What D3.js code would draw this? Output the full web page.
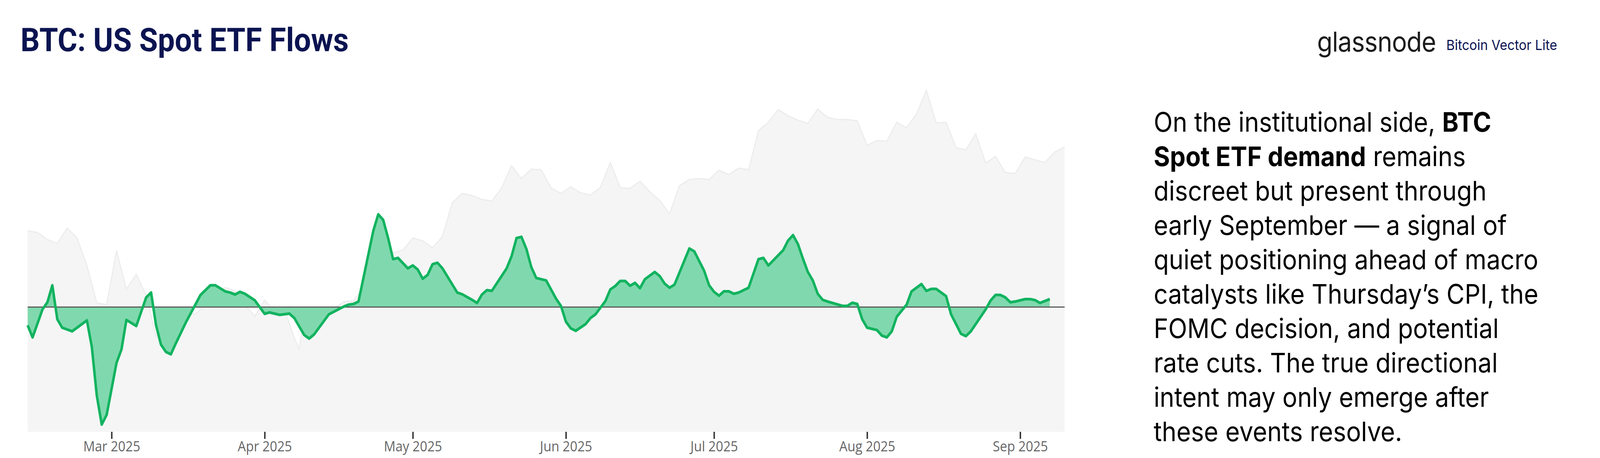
<!DOCTYPE html>
<html>
<head>
<meta charset="utf-8">
<script src="https://cdn.jsdelivr.net/npm/d3@7"></script>
<style>
html, body { margin: 0; background: #fff; overflow: hidden; }
svg { display: block; }
</style>
</head>
<body>
<script>
// price (k USD), every ~2 days
const priceDates = ["2025-02-12","2025-02-14","2025-02-16","2025-02-18","2025-02-20","2025-02-22","2025-02-24","2025-02-26","2025-02-28","2025-03-02","2025-03-04","2025-03-06","2025-03-08","2025-03-10","2025-03-12","2025-03-14","2025-03-16","2025-03-18","2025-03-20","2025-03-22","2025-03-24","2025-03-26","2025-03-28","2025-03-30","2025-04-01","2025-04-03","2025-04-05","2025-04-07","2025-04-08","2025-04-09","2025-04-11","2025-04-13","2025-04-15","2025-04-17","2025-04-19","2025-04-21","2025-04-23","2025-04-25","2025-04-27","2025-04-29","2025-05-01","2025-05-03","2025-05-05","2025-05-07","2025-05-09","2025-05-11","2025-05-13","2025-05-15","2025-05-17","2025-05-19","2025-05-21","2025-05-23","2025-05-25","2025-05-27","2025-05-29","2025-05-31","2025-06-02","2025-06-04","2025-06-06","2025-06-08","2025-06-10","2025-06-12","2025-06-14","2025-06-16","2025-06-18","2025-06-20","2025-06-22","2025-06-24","2025-06-26","2025-06-28","2025-06-30","2025-07-02","2025-07-04","2025-07-06","2025-07-08","2025-07-10","2025-07-12","2025-07-14","2025-07-16","2025-07-18","2025-07-20","2025-07-22","2025-07-24","2025-07-26","2025-07-28","2025-07-30","2025-08-01","2025-08-03","2025-08-05","2025-08-07","2025-08-09","2025-08-11","2025-08-13","2025-08-15","2025-08-17","2025-08-19","2025-08-21","2025-08-23","2025-08-25","2025-08-27","2025-08-29","2025-08-31","2025-09-02","2025-09-04","2025-09-06","2025-09-08","2025-09-10"]
const priceValues = [97.8,97.5,96.2,95.5,98.3,96.5,91.5,84.7,84.4,94.2,87.2,89.9,86.1,78.6,83.7,84.0,82.6,82.7,84.2,84.0,87.5,86.9,84.3,82.3,85.2,83.2,83.5,78.4,76.3,82.6,83.4,83.6,83.7,84.9,85.1,87.5,93.7,94.7,93.8,94.3,96.5,96.0,94.7,96.8,102.9,104.6,104.2,103.5,103.2,105.6,109.6,107.3,109.0,108.9,105.6,104.6,105.8,104.7,104.3,105.7,110.2,105.6,105.5,106.8,104.9,103.3,100.9,106.0,107.1,107.3,107.1,108.8,108.0,109.2,108.9,116.0,117.5,119.8,118.7,117.9,117.3,119.9,118.4,118.0,118.0,117.8,113.3,114.2,114.1,117.5,116.5,119.0,123.3,117.4,117.5,112.9,112.5,115.4,110.1,111.3,108.4,108.2,111.2,110.7,110.2,112.1,113.0]

// ETF net flow (smoothed, arbitrary units), day offset from 2025-02-12
const flowDays = [0,1,3,4,5,6,7,9,10,12,13,14,15,16,18,19,20,22,24,25,26,27,28,29,30,32,35,37,38,40,41,42,43,44,46,48,49,51,53,54,56,57,58,61,64,65,66,67,70,71,72,73,74,75,77,78,79,80,81,82,83,84,87,88,90,91,92,93,94,97,98,99,100,101,102,103,105,107,108,109,110,111,113,114,115,117,118,119,120,121,122,123,124,125,127,128,129,130,131,134,135,137,138,139,140,141,142,143,144,146,148,149,150,153,154,155,156,157,158,159,160,161,162,165,166,167,168,169,170,172,173,174,175,176,178,179,181,182,183,184,186,187,189,190,191,194,195,196,197,198,199,200,202,203,204,205,207]
const flowValues = [-7.5,-12.5,-1,2,9,-5,-8.5,-10,-8.5,-5.5,-16.5,-36.5,-48.5,-44.5,-23,-17.5,-5.3,-7.8,4,6,-7.5,-15.5,-18.5,-19.5,-15,-6.5,5,9,9,6.5,6,5.2,6.3,5.5,2.8,-2.8,-2.2,-3.2,-2.7,-4.5,-11.5,-13,-11.3,-3,0.2,1,1.3,2.3,31.5,38.3,36,28.5,19.8,20.3,16,17.2,15.5,11.7,13.3,17.7,18.3,16,6,5.3,3,1.7,5.2,7,6.7,16,21,28.5,29,24,16.5,12,11,3.5,0.5,-6,-8.8,-9.8,-7,-4.5,-3,2.5,7.3,8.7,10.8,10.8,8.8,10,7.8,11.5,14.5,12.8,9.7,8,9.3,24.2,23,15,9,6.3,4.7,6.5,6.5,5.5,6,8,19.8,20.3,17.2,23.5,27.5,29.7,26,20,14.5,11,5.5,3,2.3,0.5,0.5,1.8,1.3,-5,-8.5,-9.5,-11.8,-12.5,-10,-4,1,6.5,9.5,6.7,7.5,7.5,4.5,-3,-11,-12,-10,-1,2.7,5,5,4,2,2.3,3.3,3.3,2.9,1.7,3.3]

const tickLabels = ["Mar 2025","Apr 2025","May 2025","Jun 2025","Jul 2025","Aug 2025","Sep 2025"]

const textLines = [
    [["On the institutional side, ", 400], ["BTC", 700]],
    [["Spot ETF demand", 700], [" remains", 400]],
    [["discreet but present through", 400]],
    [["early September \u2014 a signal of", 400]],
    [["quiet positioning ahead of macro", 400]],
    [["catalysts like Thursday\u2019s CPI, the", 400]],
    [["FOMC decision, and potential", 400]],
    [["rate cuts. The true directional", 400]],
    [["intent may only emerge after", 400]],
    [["these events resolve.", 400]]
]

const W = 4456, H = 1172
const plotLeft = 77, plotRight = 2965, plotTop = 220, plotBottom = 1105

const parse = d3.timeParse("%Y-%m-%d")
const start = parse("2025-02-12")
const dayOf = (n) => d3.timeDay.offset(start, n)

// scale the full design to whatever the window actually is
const svg = d3.select("body").append("svg")
    .attr("width", window.innerWidth).attr("height", window.innerHeight)
    .attr("viewBox", `0 0 ${W} ${H}`).attr("preserveAspectRatio", "none")

const x = d3.scaleTime().domain([start, parse("2025-09-10")]).range([plotLeft, plotRight])
const yPrice = d3.scaleLinear().domain([61.3, 124.1]).range([plotBottom, plotTop])
const yFlow = d3.scaleLinear().domain([-51.5, 91.3]).range([plotBottom, plotTop])

const prices = priceDates.map((d, i) => ({date: parse(d), v: priceValues[i]}))
const flows = flowDays.map((d, i) => ({date: dayOf(d), v: flowValues[i]}))

// grey price background
svg.append("path").datum(prices)
    .attr("d", d3.area().x(d => x(d.date)).y0(plotBottom).y1(d => yPrice(d.v)))
    .attr("fill", "#f5f5f5")
svg.append("path").datum(prices)
    .attr("d", d3.line().x(d => x(d.date)).y(d => yPrice(d.v)))
    .attr("fill", "none").attr("stroke", "#ececec").attr("stroke-width", 3)

// flows
svg.append("path").datum(flows)
    .attr("d", d3.area().x(d => x(d.date)).y0(yFlow(0)).y1(d => yFlow(d.v)))
    .attr("fill", "#80d9ae")
svg.append("line")
    .attr("x1", plotLeft).attr("x2", plotRight).attr("y1", yFlow(0)).attr("y2", yFlow(0))
    .attr("stroke", "#5a5a5a").attr("stroke-width", 3)
svg.append("path").datum(flows)
    .attr("d", d3.line().x(d => x(d.date)).y(d => yFlow(d.v)))
    .attr("fill", "none").attr("stroke", "#12b35f").attr("stroke-width", 7)
    .attr("stroke-linejoin", "round")

// x axis
const tickDates = d3.timeMonth.range(parse("2025-03-01"), parse("2025-09-02"))
const axis = svg.append("g").attr("transform", `translate(0,${plotBottom})`)
    .call(d3.axisBottom(x).tickValues(tickDates).tickSize(18).tickPadding(6)
        .tickFormat((d, i) => tickLabels[i]))
axis.select(".domain").remove()
axis.selectAll(".tick line").attr("stroke", "#333").attr("stroke-width", 4)
axis.selectAll("text").attr("font-family", "'Open Sans', sans-serif")
    .attr("font-size", 36).attr("fill", "#666")

// title and brand
svg.append("text").text("BTC: US Spot ETF Flows")
    .attr("x", 57).attr("y", 131)
    .attr("font-family", "Roboto, sans-serif").attr("font-weight", 700)
    .attr("font-size", 84).attr("fill", "#0b1451")
svg.append("text").text("glassnode")
    .attr("x", 3668).attr("y", 132)
    .attr("font-family", "Inter, sans-serif").attr("font-size", 70)
    .attr("fill", "#1c1c1c").attr("letter-spacing", -1)
svg.append("text").text("Bitcoin Vector Lite")
    .attr("x", 4028).attr("y", 128)
    .attr("font-family", "Inter, sans-serif").attr("font-size", 36)
    .attr("fill", "#0b1451")

// commentary
const body = svg.append("text")
    .attr("font-family", "Inter, sans-serif").attr("font-size", 69).attr("fill", "#000")
textLines.forEach((parts, i) => {
    parts.forEach(([s, w], j) => {
        const t = body.append("tspan").text(s).attr("font-weight", w)
        if (j === 0) t.attr("x", 3213).attr("y", 337 + i * 88)
    })
})
</script>
</body>
</html>
